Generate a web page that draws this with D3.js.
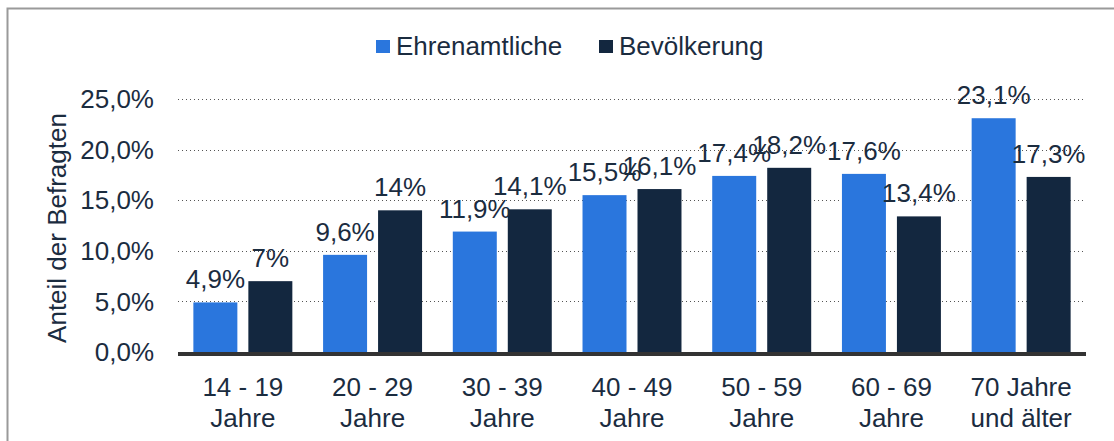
<!DOCTYPE html>
<html>
<head>
<meta charset="utf-8">
<script src="https://cdn.jsdelivr.net/npm/d3@7"></script>
<style>
  html, body { margin: 0; padding: 0; background: #fff; }
  svg { display: block; font-family: "Liberation Sans", Arial, sans-serif; }
</style>
</head>
<body>
<svg id="chart" width="1114" height="441"></svg>
<script>
const categories = [["14 - 19", "Jahre"], ["20 - 29", "Jahre"], ["30 - 39", "Jahre"], ["40 - 49", "Jahre"], ["50 - 59", "Jahre"], ["60 - 69", "Jahre"], ["70 Jahre", "und älter"]];
const seriesNames = ["Ehrenamtliche", "Bevölkerung"];
const ehrenamtliche = [4.9, 9.6, 11.9, 15.5, 17.4, 17.6, 23.1];
const bevoelkerung = [7, 14, 14.1, 16.1, 18.2, 13.4, 17.3];
const yTicks = [0, 5, 10, 15, 20, 25];
const yTitle = "Anteil der Befragten";

const colors = ["#2a76dd", "#13273f"];
const textColor = "#1b2c3f";
const fs = 26;

const svg = d3.select("#chart");

// frame
svg.append("path")
  .attr("d", "M7.5,441 L7.5,8.5 L1114,8.5")
  .attr("fill", "none").attr("stroke", "#9a9a9a").attr("stroke-width", 2);

const x0 = d3.scaleBand().domain(d3.range(categories.length)).range([178, 1086]).paddingInner(0.237).paddingOuter(0.1185);
const x1 = d3.scaleBand().domain(seriesNames).range([0, x0.bandwidth()]).paddingInner(0.2);
const y = d3.scaleLinear().domain([0, 25]).range([352, 99]);

const fmtTick = v => d3.format(".1f")(v).replace(".", ",") + "%";
const fmtVal = v => String(v).replace(".", ",") + "%";

// gridlines
svg.append("g").selectAll("line").data(yTicks.filter(t => t > 0)).join("line")
  .attr("x1", 178).attr("x2", 1086)
  .attr("y1", d => Math.round(y(d)) + 0.5).attr("y2", d => Math.round(y(d)) + 0.5)
  .attr("stroke", "#555").attr("stroke-width", 1).attr("stroke-dasharray", "1,3");

// y tick labels
svg.append("g").selectAll("text").data(yTicks).join("text")
  .attr("x", 154).attr("y", d => y(d)).attr("dy", "0.35em")
  .attr("text-anchor", "end").attr("font-size", fs).attr("fill", textColor)
  .text(fmtTick);

// y title
svg.append("text")
  .attr("transform", "translate(66,228) rotate(-90)")
  .attr("text-anchor", "middle").attr("font-size", fs).attr("fill", textColor)
  .text(yTitle);

// bars
const data = categories.map((c, i) => ({ i, vals: [ehrenamtliche[i], bevoelkerung[i]] }));
const groups = svg.append("g").selectAll("g").data(data).join("g")
  .attr("transform", d => `translate(${x0(d.i)},0)`);

groups.selectAll("rect").data(d => d.vals.map((v, k) => ({ v, k }))).join("rect")
  .attr("x", d => x1(seriesNames[d.k])).attr("width", x1.bandwidth())
  .attr("y", d => y(d.v)).attr("height", d => y(0) - y(d.v))
  .attr("fill", d => colors[d.k]);

groups.selectAll("text.val").data(d => d.vals.map((v, k) => ({ v, k }))).join("text")
  .attr("class", "val")
  .attr("x", d => x1(seriesNames[d.k]) + x1.bandwidth() / 2)
  .attr("y", d => y(d.v) - 14)
  .attr("text-anchor", "middle").attr("font-size", fs).attr("fill", textColor)
  .text(d => fmtVal(d.v));

// x axis line
svg.append("line").attr("x1", 178).attr("x2", 1086).attr("y1", 354).attr("y2", 354)
  .attr("stroke", "#333").attr("stroke-width", 4);

// x labels
const xl = svg.append("g").selectAll("text").data(categories).join("text")
  .attr("text-anchor", "middle").attr("font-size", fs).attr("fill", textColor)
  .attr("transform", (d, i) => `translate(${x0(i) + x0.bandwidth() / 2},0)`);
xl.selectAll("tspan").data(d => d).join("tspan")
  .attr("x", 0).attr("y", (d, j) => 396 + j * 31).text(d => d);

// legend
const leg = svg.append("g");
const legX = [376, 599];
seriesNames.forEach((s, k) => {
  leg.append("rect").attr("x", legX[k]).attr("y", 40).attr("width", 14).attr("height", 13).attr("fill", colors[k]);
  leg.append("text").attr("x", legX[k] + 20).attr("y", 55).attr("font-size", fs).attr("fill", textColor).text(s);
});
</script>
</body>
</html>
